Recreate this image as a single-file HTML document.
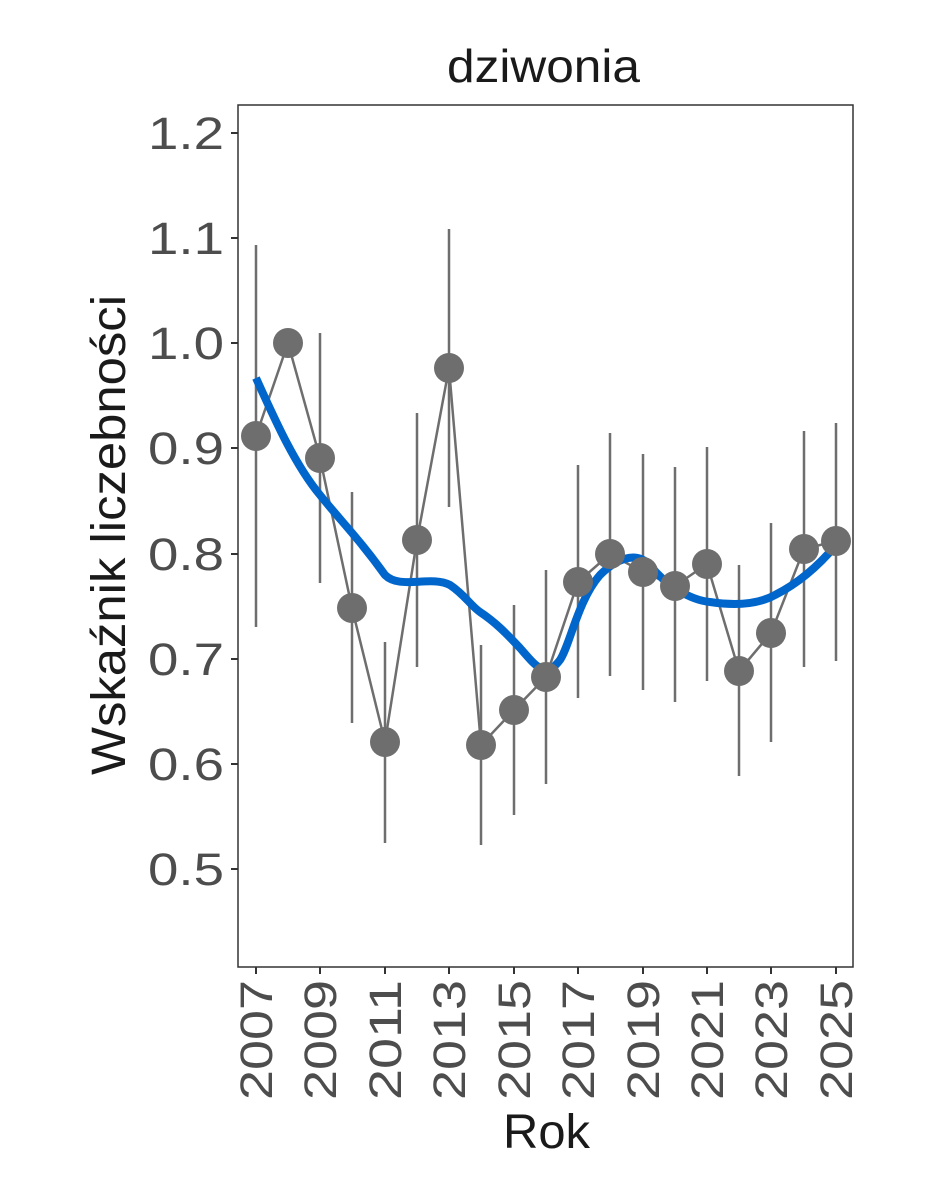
<!DOCTYPE html>
<html><head><meta charset="utf-8"><style>
html,body{margin:0;padding:0;background:#fff;}
svg{display:block;font-family:"Liberation Sans",Arial,sans-serif;}
</style></head><body>
<svg width="944" height="1181" viewBox="0 0 944 1181" xmlns="http://www.w3.org/2000/svg">
<rect width="944" height="1181" fill="#fff"/>
<text x="447" y="82" font-size="46" textLength="193" lengthAdjust="spacingAndGlyphs" fill="#1a1a1a">dziwonia</text>
<rect x="238" y="105" width="615" height="862" fill="none" stroke="#333" stroke-width="1.5"/>
<g stroke="#333" stroke-width="2">
<line x1="231" y1="133" x2="238" y2="133"/><line x1="231" y1="238" x2="238" y2="238"/>
<line x1="231" y1="343" x2="238" y2="343"/><line x1="231" y1="448" x2="238" y2="448"/>
<line x1="231" y1="554" x2="238" y2="554"/><line x1="231" y1="659" x2="238" y2="659"/>
<line x1="231" y1="764" x2="238" y2="764"/><line x1="231" y1="869" x2="238" y2="869"/>
</g>
<g font-size="45" fill="#4d4d4d">
<text x="148" y="149" textLength="76" lengthAdjust="spacingAndGlyphs">1.2</text>
<text x="148" y="254" textLength="76" lengthAdjust="spacingAndGlyphs">1.1</text>
<text x="148" y="359" textLength="76" lengthAdjust="spacingAndGlyphs">1.0</text>
<text x="148" y="464" textLength="76" lengthAdjust="spacingAndGlyphs">0.9</text>
<text x="148" y="570" textLength="76" lengthAdjust="spacingAndGlyphs">0.8</text>
<text x="148" y="675" textLength="76" lengthAdjust="spacingAndGlyphs">0.7</text>
<text x="148" y="780" textLength="76" lengthAdjust="spacingAndGlyphs">0.6</text>
<text x="148" y="885" textLength="76" lengthAdjust="spacingAndGlyphs">0.5</text>
</g>
<g stroke="#333" stroke-width="2">
<line x1="256" y1="967" x2="256" y2="974"/><line x1="320" y1="967" x2="320" y2="974"/>
<line x1="385" y1="967" x2="385" y2="974"/><line x1="449" y1="967" x2="449" y2="974"/>
<line x1="514" y1="967" x2="514" y2="974"/><line x1="578" y1="967" x2="578" y2="974"/>
<line x1="643" y1="967" x2="643" y2="974"/><line x1="707" y1="967" x2="707" y2="974"/>
<line x1="771" y1="967" x2="771" y2="974"/><line x1="836" y1="967" x2="836" y2="974"/>
</g>
<g font-size="45" fill="#4d4d4d">
<text transform="translate(272,1100) rotate(-90)" textLength="120" lengthAdjust="spacingAndGlyphs">2007</text>
<text transform="translate(336,1100) rotate(-90)" textLength="120" lengthAdjust="spacingAndGlyphs">2009</text>
<text transform="translate(401,1100) rotate(-90)" textLength="120" lengthAdjust="spacingAndGlyphs">2011</text>
<text transform="translate(465,1100) rotate(-90)" textLength="120" lengthAdjust="spacingAndGlyphs">2013</text>
<text transform="translate(530,1100) rotate(-90)" textLength="120" lengthAdjust="spacingAndGlyphs">2015</text>
<text transform="translate(594,1100) rotate(-90)" textLength="120" lengthAdjust="spacingAndGlyphs">2017</text>
<text transform="translate(659,1100) rotate(-90)" textLength="120" lengthAdjust="spacingAndGlyphs">2019</text>
<text transform="translate(723,1100) rotate(-90)" textLength="120" lengthAdjust="spacingAndGlyphs">2021</text>
<text transform="translate(787,1100) rotate(-90)" textLength="120" lengthAdjust="spacingAndGlyphs">2023</text>
<text transform="translate(852,1100) rotate(-90)" textLength="120" lengthAdjust="spacingAndGlyphs">2025</text>
</g>
<text x="503" y="1148" font-size="48" textLength="87" lengthAdjust="spacingAndGlyphs" fill="#1a1a1a">Rok</text>
<text transform="translate(125,775) rotate(-90)" font-size="48" textLength="480" lengthAdjust="spacingAndGlyphs" fill="#1a1a1a">Wskaźnik liczebności</text>
<g stroke="#6e6e6e" stroke-width="2.5">
<line x1="256" y1="245" x2="256" y2="627"/>
<line x1="320" y1="333" x2="320" y2="583"/>
<line x1="352" y1="492" x2="352" y2="723"/>
<line x1="385" y1="642" x2="385" y2="843"/>
<line x1="417" y1="413" x2="417" y2="667"/>
<line x1="449" y1="229" x2="449" y2="507"/>
<line x1="481" y1="645" x2="481" y2="845"/>
<line x1="514" y1="605" x2="514" y2="815"/>
<line x1="546" y1="570" x2="546" y2="784"/>
<line x1="578" y1="465" x2="578" y2="698"/>
<line x1="610" y1="433" x2="610" y2="676"/>
<line x1="643" y1="454" x2="643" y2="690"/>
<line x1="675" y1="467" x2="675" y2="702"/>
<line x1="707" y1="447" x2="707" y2="681"/>
<line x1="739" y1="565" x2="739" y2="776"/>
<line x1="771" y1="523" x2="771" y2="742"/>
<line x1="804" y1="431" x2="804" y2="667"/>
<line x1="836" y1="423" x2="836" y2="661"/>
</g>
<polyline fill="none" stroke="#6e6e6e" stroke-width="2.5" points="256,436 288,343 320,458 352,608 385,742 417,540 449,368 481,745 514,710 546,677 578,582 610,554 643,572 675,586 707,564 739,671 771,633 804,549 836,541"/>
<path fill="none" stroke="#0066cc" stroke-width="8" d="M256,378 C275,420 295,465 320,495 C340,520 360,540 385,575 C400,590 430,575 450,585 C465,595 470,605 480,612 C495,622 505,632 520,648 C535,665 545,680 560,660 C570,645 578,600 600,575 C615,560 635,550 650,565 C665,585 690,600 710,602 C730,605 755,606 775,595 C795,585 815,570 836,545"/>
<g fill="#6e6e6e">
<circle cx="256" cy="436" r="15"/><circle cx="288" cy="343" r="15"/><circle cx="320" cy="458" r="15"/>
<circle cx="352" cy="608" r="15"/><circle cx="385" cy="742" r="15"/><circle cx="417" cy="540" r="15"/>
<circle cx="449" cy="368" r="15"/><circle cx="481" cy="745" r="15"/><circle cx="514" cy="710" r="15"/>
<circle cx="546" cy="677" r="15"/><circle cx="578" cy="582" r="15"/><circle cx="610" cy="554" r="15"/>
<circle cx="643" cy="572" r="15"/><circle cx="675" cy="586" r="15"/><circle cx="707" cy="564" r="15"/>
<circle cx="739" cy="671" r="15"/><circle cx="771" cy="633" r="15"/><circle cx="804" cy="549" r="15"/>
<circle cx="836" cy="541" r="15"/>
</g>
</svg>
</body></html>
